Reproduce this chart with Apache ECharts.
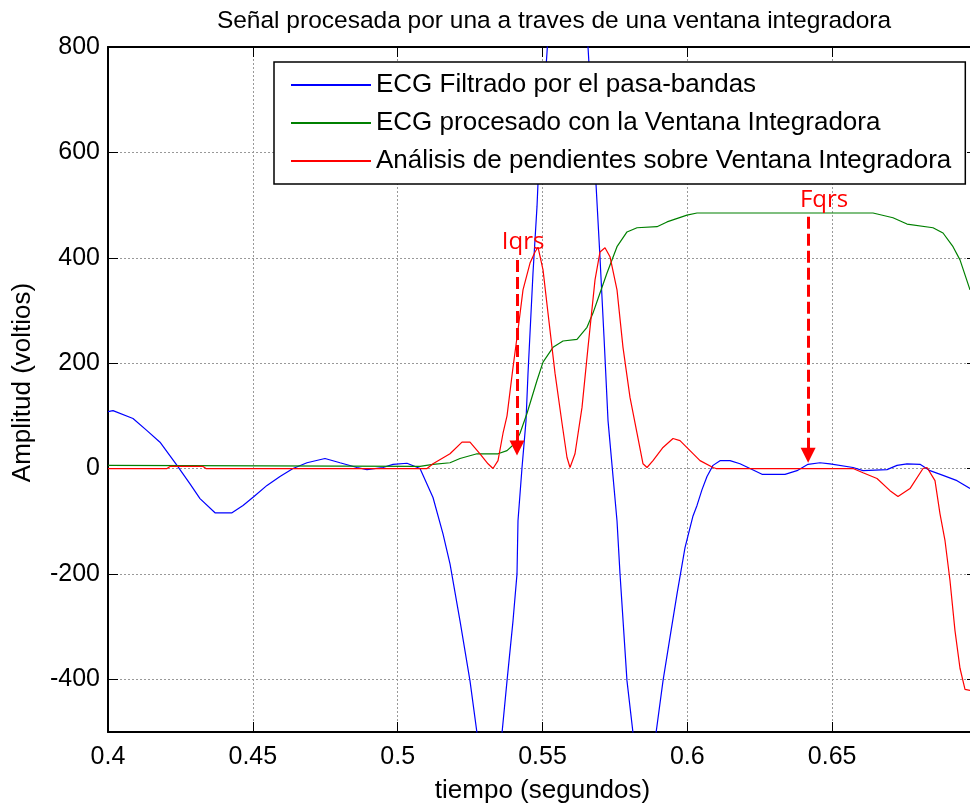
<!DOCTYPE html>
<html>
<head>
<meta charset="utf-8">
<script src="https://cdn.jsdelivr.net/npm/echarts@6/dist/echarts.min.js"></script>
<style>
  html, body { margin: 0; padding: 0; background: #fff; }
  #chart { width: 970px; height: 803px; }
</style>
</head>
<body>
<div id="chart"></div>
<script>
// ECG filtrado (azul)
const filtT = [0.4, 0.40173, 0.40863, 0.41346, 0.41795, 0.42382, 0.42831, 0.43176, 0.43694, 0.44281,
  0.44661, 0.4504, 0.45489, 0.45938, 0.46387, 0.4687, 0.47491, 0.48009, 0.48596, 0.48941,
  0.49494, 0.49839, 0.50322, 0.50771, 0.5122, 0.51565, 0.51807, 0.52152, 0.52497, 0.52739,
  0.53188, 0.53602, 0.53775, 0.53982, 0.5412, 0.54154, 0.54293, 0.54431, 0.545, 0.54672,
  0.5481, 0.54845, 0.55156, 0.55501, 0.55846, 0.56191, 0.56571, 0.56847, 0.56985, 0.57123,
  0.57262, 0.57572, 0.57676, 0.57917, 0.58125, 0.58539, 0.58919, 0.5916, 0.59402, 0.59644,
  0.5992, 0.60196, 0.60334, 0.60507, 0.60679, 0.60886, 0.61128, 0.61473, 0.61818, 0.62164,
  0.62578, 0.63372, 0.63786, 0.64166, 0.6458, 0.64926, 0.6572, 0.66065, 0.66893, 0.67239,
  0.67584, 0.68033, 0.68378, 0.68827, 0.6931, 0.69759];
const filtV = [108, 110, 95, 72, 50, 6, -29, -57, -84, -84,
  -70, -53, -32, -15, 0, 11, 19, 11, 2, -2,
  2, 8, 10, 0, -55, -124, -181, -289, -403, -502,
  -650, -502, -403, -289, -200, -99, 2, 91, 181, 371,
  497, 542, 790, 1100, 1250, 1100, 800, 540, 400, 250,
  91, -99, -200, -403, -502, -650, -502, -403, -320, -238,
  -150, -90, -70, -40, -15, 6, 15, 15, 9, 0,
  -11, -11, -4, 8, 11, 9, 2, -4, -2, 6,
  9, 8, -4, -13, -23, -38];

// ECG procesado con la ventana integradora (verde)
const integT = [0.4, 0.50771, 0.5122, 0.51807, 0.52152, 0.52739, 0.53464, 0.53775, 0.54051, 0.54224,
  0.54466, 0.5481, 0.55018, 0.55363, 0.55708, 0.56191, 0.56536, 0.56743, 0.56985, 0.57227,
  0.57572, 0.57917, 0.58263, 0.58953, 0.59298, 0.59988, 0.60334, 0.6641, 0.671, 0.67584,
  0.68481, 0.68827, 0.69172, 0.69413, 0.69759];
const integV = [6, 4, 8, 11, 19, 28, 28, 34, 48, 67,
  105, 167, 202, 230, 242, 245, 268, 295, 333, 371,
  421, 449, 457, 459, 468, 481, 485, 485, 476, 464,
  457, 447, 421, 396, 339];

// Análisis de pendientes (rojo)
const pendT = [0.4, 0.42037, 0.4214, 0.4328, 0.43383, 0.51013, 0.5122, 0.51807, 0.52221, 0.52497,
  0.52843, 0.53119, 0.53291, 0.53464, 0.53637, 0.53775, 0.53982, 0.54154, 0.54327, 0.54569,
  0.54741, 0.54845, 0.55018, 0.5519, 0.55432, 0.55674, 0.55846, 0.5595, 0.56122, 0.56364,
  0.56571, 0.56813, 0.56985, 0.57158, 0.5733, 0.57572, 0.57779, 0.58021, 0.58263, 0.5847,
  0.58608, 0.58815, 0.5916, 0.59505, 0.59747, 0.60092, 0.60438, 0.60886, 0.6099, 0.6572,
  0.66065, 0.66548, 0.66997, 0.67273, 0.67687, 0.68136, 0.68274, 0.6855, 0.68723, 0.68896,
  0.69068, 0.69241, 0.69413, 0.69586, 0.69759];
const pendV = [0, 0, 4, 4, 0, 0, 9, 28, 50, 50,
  28, 9, 0, 15, 67, 100, 192, 263, 339, 390,
  411, 420, 377, 295, 181, 86, 21, 2, 28, 116,
  230, 358, 411, 419, 402, 339, 230, 135, 67, 9,
  2, 15, 40, 57, 53, 34, 15, 2, 0, 0,
  -8, -19, -42, -53, -38, 0, 2, -23, -86, -137,
  -213, -308, -379, -419, -421];

const seriesNames = [
  "ECG Filtrado por el pasa-bandas",
  "ECG procesado con la Ventana Integradora",
  "Análisis de pendientes sobre Ventana Integradora"
];
const xTicks = [0.4, 0.45, 0.5, 0.55, 0.6, 0.65, 0.7];
const xLabels = [0.4, 0.45, 0.5, 0.55, 0.6, 0.65];
const yTicks = [-400, -200, 0, 200, 400, 600, 800];

// marcas Iqrs / Fqrs: [tiempo, desde, hasta]
const iqrsArrow = [0.5412, 396, 39];
const fqrsArrow = [0.6417, 478, 25];
const iqrsText = [0.5433, 430];
const fqrsText = [0.6472, 509];

const F = "'Liberation Sans', Arial, sans-serif";
const zip = (t, v) => t.map((x, i) => [x, v[i]]);

const chart = echarts.init(document.getElementById("chart"));

const gridLine = { show: true, lineStyle: { color: "#999", type: [2, 2], width: 1 } };

chart.setOption({
  animation: false,
  backgroundColor: "#fff",
  title: {
    text: "Señal procesada por una a traves de una ventana integradora",
    left: 549,
    top: 4,
    textAlign: "center",
    textStyle: { fontSize: 24.5, fontWeight: "normal", color: "#000", fontFamily: F }
  },
  grid: { left: 108, right: -7, top: 47, bottom: 71, containLabel: false, outerBoundsMode: "none" },
  legend: {
    data: seriesNames,
    orient: "vertical",
    left: 274,
    top: 62,
    padding: [10, 14, 10, 16],
    itemGap: 12,
    itemWidth: 80,
    itemHeight: 25,
    selectedMode: false,
    backgroundColor: "#fff",
    borderColor: "#000",
    borderWidth: 1.5,
    itemStyle: { color: "rgba(0,0,0,0)", borderWidth: 0, opacity: 0 },
    textStyle: { fontSize: 26, color: "#000", fontFamily: F }
  },
  xAxis: [
    {
      type: "value",
      min: 0.4,
      max: 0.7,
      position: "bottom",
      name: "tiempo (segundos)",
      nameLocation: "middle",
      nameGap: 46,
      nameTextStyle: { fontSize: 26, color: "#000", fontFamily: F },
      axisLine: { show: true, onZero: false, lineStyle: { color: "#000", width: 2 } },
      axisTick: { show: true, inside: true, length: 10, customValues: xTicks, lineStyle: { color: "#000" } },
      axisLabel: { customValues: xLabels, fontSize: 25, color: "#000", margin: 13, fontFamily: F },
      splitLine: gridLine
    },
    {
      type: "value",
      min: 0.4,
      max: 0.7,
      position: "top",
      axisLine: { show: true, onZero: false, lineStyle: { color: "#000", width: 2 } },
      axisTick: { show: true, inside: true, length: 10, customValues: xTicks, lineStyle: { color: "#000" } },
      axisLabel: { show: false },
      splitLine: { show: false }
    }
  ],
  yAxis: [
    {
      type: "value",
      min: -500,
      max: 800,
      position: "left",
      name: "Amplitud (voltios)",
      nameLocation: "middle",
      nameGap: 72,
      nameTextStyle: { fontSize: 26, color: "#000", fontFamily: F, padding: [0, 0, 0, 14] },
      axisLine: { show: true, onZero: false, lineStyle: { color: "#000", width: 2 } },
      axisTick: { show: true, inside: true, length: 10, customValues: yTicks, lineStyle: { color: "#000" } },
      axisLabel: { customValues: yTicks, fontSize: 25, color: "#000", margin: 8, fontFamily: F },
      splitLine: gridLine
    },
    {
      type: "value",
      min: -500,
      max: 800,
      position: "right",
      axisLine: { show: true, onZero: false, lineStyle: { color: "#000", width: 2 } },
      axisTick: { show: true, inside: true, length: 10, customValues: yTicks, lineStyle: { color: "#000" } },
      axisLabel: { show: false },
      splitLine: { show: false }
    }
  ],
  series: [
    {
      name: seriesNames[0],
      type: "line",
      data: zip(filtT, filtV),
      symbol: "none",
      clip: true,
      lineStyle: { color: "#0000ff", width: 1.2 },
      itemStyle: { color: "#0000ff" }
    },
    {
      name: seriesNames[1],
      type: "line",
      data: zip(integT, integV),
      symbol: "none",
      clip: true,
      lineStyle: { color: "#008000", width: 1.2 },
      itemStyle: { color: "#008000" }
    },
    {
      name: seriesNames[2],
      type: "line",
      data: zip(pendT, pendV),
      symbol: "none",
      clip: true,
      lineStyle: { color: "#ff0000", width: 1.2 },
      itemStyle: { color: "#ff0000" },
      markLine: {
        silent: true,
        symbol: ["none", "triangle"],
        symbolSize: 15,
        label: { show: false },
        lineStyle: { color: "#ff0000", width: 3, type: [12, 5] },
        emphasis: { disabled: true },
        data: [
          [{ coord: [iqrsArrow[0], iqrsArrow[1]] }, { coord: [iqrsArrow[0], iqrsArrow[2]] }],
          [{ coord: [fqrsArrow[0], fqrsArrow[1]] }, { coord: [fqrsArrow[0], fqrsArrow[2]] }]
        ]
      },
      markPoint: {
        silent: true,
        symbol: "rect",
        symbolSize: 1,
        itemStyle: { color: "rgba(0,0,0,0)" },
        label: {
          show: true,
          position: "inside",
          formatter: (p) => p.name,
          color: "#ff0000",
          fontSize: 24,
          fontFamily: "'Open Sans', 'Noto Sans', sans-serif"
        },
        data: [
          { name: "Iqrs", coord: iqrsText },
          { name: "Fqrs", coord: fqrsText }
        ]
      }
    }
  ]
});
</script>
</body>
</html>
